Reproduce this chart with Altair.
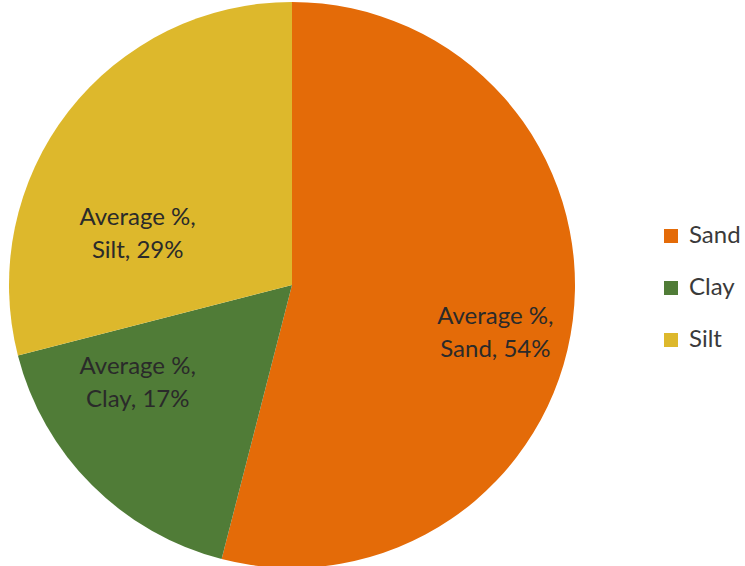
import math
import altair as alt
import pandas as pd

categories = ["Sand", "Clay", "Silt"]
values = [54, 17, 29]
colors = ["#E46B08", "#507C37", "#DDB82C"]
series_name = "Average %"

df = pd.DataFrame({"category": categories, "value": values, "order": list(range(len(categories)))})
df["label"] = [f"{series_name},\n{c}, {v}%" for c, v in zip(categories, values)]

CX, CY, R = 292, 285, 283
FONT = "Lato"
FS = 24

color = alt.Color(
    "category:N",
    scale=alt.Scale(domain=categories, range=colors),
    sort=categories,
    legend=alt.Legend(
        title=None, orient="none", legendX=659, legendY=224,
        symbolType="square", symbolSize=196, symbolStrokeWidth=0,
        labelFontSize=FS, labelFont=FONT, labelColor="#3a3a3a",
        rowPadding=28, labelOffset=6,
    ),
)

pie = alt.Chart(df).mark_arc(radius=R, strokeWidth=0).encode(
    theta=alt.Theta("value:Q", stack=True),
    order=alt.Order("order:Q"),
    color=color,
    x=alt.value(CX),
    y=alt.value(CY),
)

label_base = (
    alt.Chart(df)
    .transform_stack(stack="value", as_=["v0", "v1"], groupby=[], sort=[alt.SortField("order")])
    .transform_calculate(mid="(datum.v0 + datum.v1) / 2")
)

placement = {
    "Sand": dict(radius=206, dx=-1, dy=6),
    "Clay": dict(radius=180, dx=-27, dy=-45),
    "Silt": dict(radius=170, dx=-20, dy=37),
}

layers = [pie]
for cat in categories:
    p = placement[cat]
    layers.append(
        label_base.transform_filter(alt.datum.category == cat)
        .mark_text(
            radius=p["radius"], dx=p["dx"], dy=p["dy"], lineBreak="\n",
            font=FONT, fontSize=FS, color="#2a2a2a", align="center", baseline="middle",
            lineHeight=33,
        )
        .encode(
            theta=alt.Theta("mid:Q", stack=None, scale=alt.Scale(domain=[0, sum(values)], range=[0, 2 * math.pi])),
            text="label:N",
            x=alt.value(CX),
            y=alt.value(CY),
        )
    )

chart = (
    alt.layer(*layers)
    .resolve_scale(theta="independent")
    .properties(width=745, height=566, autosize=alt.AutoSizeParams(type="none"), padding=0, background="white")
    .configure_view(stroke=None)
)

chart.save("out.html", embed_options={"renderer": "svg", "actions": False})
